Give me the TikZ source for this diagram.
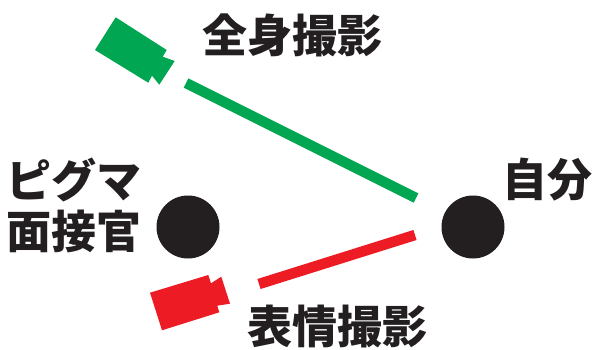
\documentclass[tikz,border=0pt]{standalone}
\usepackage{fontspec}
\newfontfamily\cjk{Noto Sans CJK JP Black}
\definecolor{gr}{HTML}{00A651}
\definecolor{rd}{HTML}{ED1C24}
\definecolor{bk}{HTML}{231F20}
\tikzset{lab/.style={text=bk,font=\cjk\fontsize{45}{50}\selectfont,inner sep=0pt,align=center},
 dot/.style={circle,fill=bk,minimum size=63pt,inner sep=0pt},
 conn/.style={line width=10.5pt}}
\begin{document}
\begin{tikzpicture}[x=1pt,y=-1pt]
\useasboundingbox (0,0) rectangle (592,350);
\fill[gr] (115.7,17.3)--(166.7,50)--(162.7,56.7)--(174.7,61)--(159.3,84.7)--(152,75.7)--(148.3,82.7)--(95,50)--cycle;
\fill[rd] (150,292.7)--(208.3,275)--(211,283.3)--(221.3,276.7)--(230,303.7)--(217.3,305.7)--(219.3,312.3)--(162,330.3)--cycle;
\node[dot] (pm) at (188,227) {};
\node[dot] (me) at (473,227) {};
\coordinate (ga) at (186,83); \coordinate (gb) at (416,198);
\coordinate (ra) at (259,284); \coordinate (rb) at (415,235);
\draw[conn,gr] (ga)--(gb);
\draw[conn,rd] (ra)--(rb);
\node[lab] (t1) at (292.5,35) {全身撮影};
\node[lab] (t2) at (74,180) {ピグマ};
\node[lab] (t3) at (74,231) {面接官};
\node[lab] (t4) at (547.5,180) {自分};
\node[lab] (t5) at (337.5,327) {表情撮影};
\end{tikzpicture}
\end{document}
